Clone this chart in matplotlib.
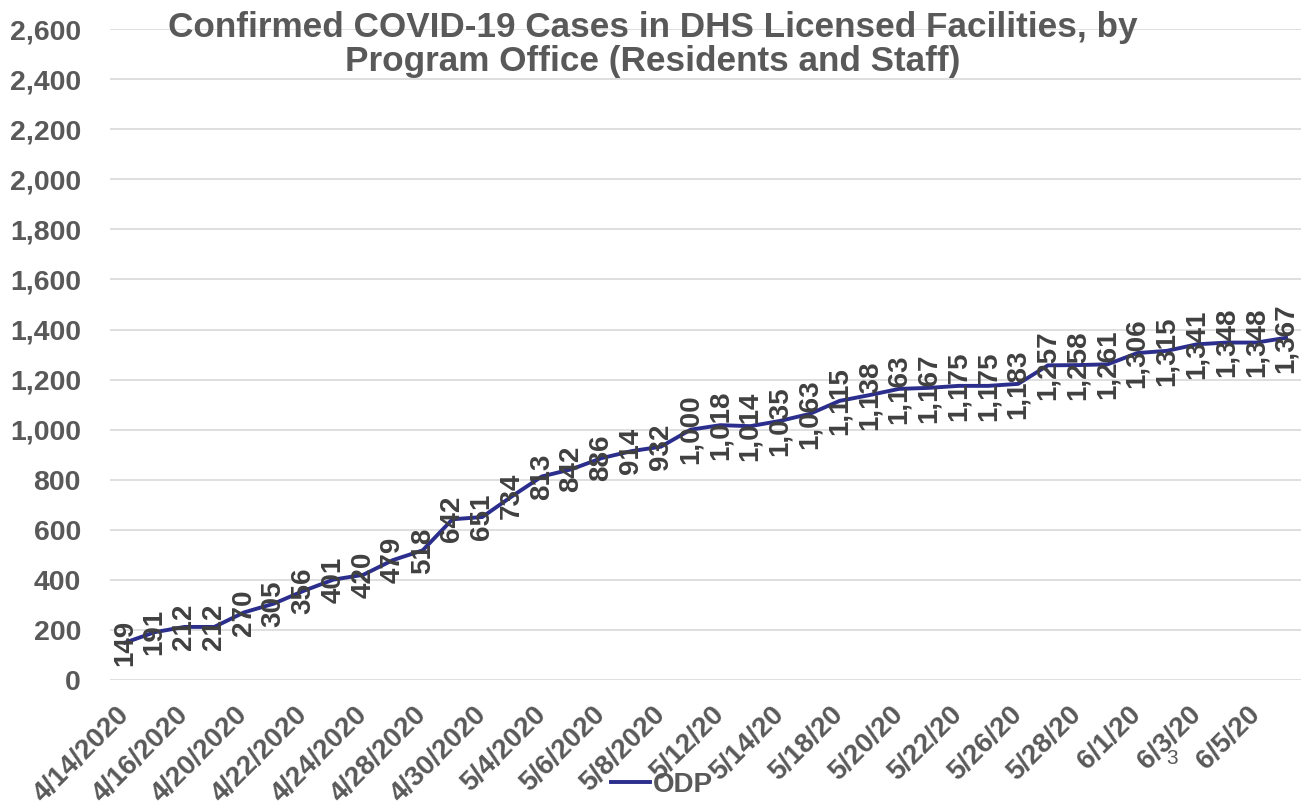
import matplotlib.pyplot as plt
from matplotlib.lines import Line2D

plt.rcParams['font.family'] = ['Liberation Sans', 'DejaVu Sans']

# daily report dates (weekdays, every other one is shown on the axis)
dates = ["4/14/2020", "4/15/2020", "4/16/2020", "4/17/2020", "4/20/2020", "4/21/2020",
         "4/22/2020", "4/23/2020", "4/24/2020", "4/27/2020", "4/28/2020", "4/29/2020",
         "4/30/2020", "5/1/2020", "5/4/2020", "5/5/2020", "5/6/2020", "5/7/2020",
         "5/8/2020", "5/11/2020", "5/12/20", "5/13/20", "5/14/20", "5/15/20",
         "5/18/20", "5/19/20", "5/20/20", "5/21/20", "5/22/20", "5/25/20",
         "5/26/20", "5/27/20", "5/28/20", "5/29/20", "6/1/20", "6/2/20",
         "6/3/20", "6/4/20", "6/5/20", "6/8/20"]
odp_cases = [149, 191, 212, 212, 270, 305, 356, 401, 420, 479,
             518, 642, 651, 734, 813, 842, 886, 914, 932, 1000,
             1018, 1014, 1035, 1063, 1115, 1138, 1163, 1167, 1175, 1175,
             1183, 1257, 1258, 1261, 1306, 1315, 1341, 1348, 1348, 1367]
y_ticks = list(range(0, 2601, 200))

title = "Confirmed COVID-19 Cases in DHS Licensed Facilities, by\nProgram Office (Residents and Staff)"
line_color = '#2B2E8C'
tick_color = '#595959'
label_color = '#404040'

fig = plt.figure(figsize=(13.01, 8.10), dpi=100)
ax = fig.add_axes([0.0846, 0.1605, 0.9154, 0.8035])

x = list(range(len(odp_cases)))
ax.plot(x, odp_cases, color=line_color, linewidth=2.8, zorder=3)

# data labels, rotated and centred on each point
for xi, v in zip(x, odp_cases):
    ax.text(xi, v, f"{v:,}", rotation=90, ha='center', va='center',
            fontsize=20, fontweight='bold', color=label_color, zorder=4)

ax.set_xlim(-0.5, len(odp_cases) - 0.5)
ax.set_ylim(0, 2600)
ax.set_yticks(y_ticks)
ax.set_yticklabels([f"{t:,}" for t in y_ticks], fontsize=20.5, fontweight='bold', color=tick_color)
ax.set_xticks(x[::2])
ax.set_xticklabels(dates[::2], rotation=45, ha='right', va='center', rotation_mode='anchor',
                   fontsize=20, fontweight='bold', color=tick_color)
ax.tick_params(axis='both', length=0)
ax.tick_params(axis='y', pad=21)
ax.tick_params(axis='x', pad=22)

ax.grid(axis='y', color='#D9D9D9', linewidth=1.2)
ax.set_axisbelow(True)
for s in ax.spines.values():
    s.set_visible(False)

fig.text(653 / 1301, 1 - 11 / 810, title, ha='center', va='top', fontsize=25.3,
         fontweight='bold', color=tick_color, linespacing=1.05)

handle = Line2D([], [], color=line_color, linewidth=2.8)
fig.legend([handle], ["ODP"], loc='center', bbox_to_anchor=(662 / 1301, 1 - 785 / 810),
           frameon=False, handlelength=1.4, handletextpad=0.1,
           prop={'size': 20, 'weight': 'bold'}, labelcolor=tick_color)

# slide page number
fig.text(1172 / 1301, 1 - 758 / 810, "3", ha='center', va='center', fontsize=15, color=tick_color)

fig.savefig("out.png", dpi=100)
